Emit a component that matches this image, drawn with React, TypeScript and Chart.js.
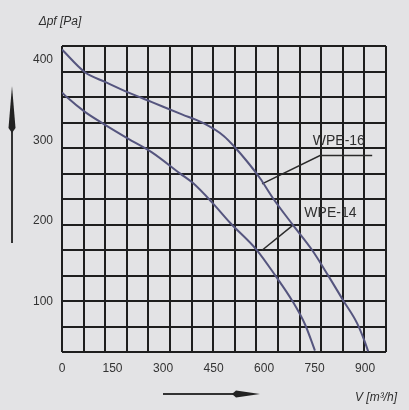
import React, { useEffect, useRef } from "react";
import { Chart, registerables } from "chart.js";

Chart.register(...registerables);

// WPE-16 fan curve (flow m³/h, pressure Pa)
const wpe16Flow = [0, 68, 128, 196, 267, 356, 420, 481, 514, 549, 588, 627, 686, 743, 790, 835, 876, 900, 909];
const wpe16Pressure = [412, 384, 372, 359, 347, 332, 321, 305, 291, 274, 253, 228, 195, 164, 133, 102, 74, 50, 39];

// WPE-14 fan curve
const wpe14Flow = [0, 15, 68, 128, 196, 267, 350, 389, 448, 499, 579, 633, 683, 722, 751];
const wpe14Pressure = [359, 353, 335, 319, 302, 285, 259, 247, 222, 198, 164, 133, 102, 72, 40];

// Leader lines for curve labels (data units)
const leader16Flow = [594, 766, 921];
const leader16Pressure = [246, 281, 281];
const leader14Flow = [594, 686];
const leader14Pressure = [164, 195];

const curveLabels = ["WPE-16", "WPE-14"];
const curveLabelFlow = [822, 797];
const curveLabelPressure = [299, 210];

const xTicks = [0, 150, 300, 450, 600, 750, 900];
const yTicks = [100, 200, 300, 400];
const xMin = 0;
const xMax = 962;
const yMin = 38.3;
const yMax = 416.4;
const xDivisions = 15;
const yDivisions = 12;

const yTitle = "Δpf [Pa]";
const xTitle = "V [m³/h]";

const toPts = (xs: number[], ys: number[]) => xs.map((x, i) => ({ x, y: ys[i] }));

const evenTicks = (min: number, max: number, n: number) =>
  Array.from({ length: n + 1 }, (_, i) => ({ value: min + (i * (max - min)) / n }));

export default function App() {
  const ref = useRef<HTMLCanvasElement | null>(null);

  useEffect(() => {
    if (!ref.current) return;
    const bgPlugin = {
      id: "bg",
      beforeDraw(chart: any) {
        const { ctx, width, height } = chart;
        ctx.save();
        ctx.fillStyle = "#e3e3e5";
        ctx.fillRect(0, 0, width, height);
        ctx.restore();
      },
    };
    const decoPlugin = {
      id: "deco",
      afterDraw(chart: any) {
        const { ctx } = chart;
        const xs = chart.scales.x;
        const ys = chart.scales.y;
        ctx.save();
        ctx.fillStyle = "#2e2e2e";
        ctx.textBaseline = "middle";
        ctx.textAlign = "center";
        ctx.font = "14px 'Liberation Sans', Arial, sans-serif";
        curveLabels.forEach((t, i) => {
          ctx.fillText(t, xs.getPixelForValue(curveLabelFlow[i]), ys.getPixelForValue(curveLabelPressure[i]));
        });
        ctx.font = "italic 12px 'Liberation Sans', Arial, sans-serif";
        ctx.textAlign = "center";
        ctx.fillText(yTitle, 60, 22);
        ctx.textAlign = "left";
        ctx.fillText(xTitle, 355, 398);

        // vertical arrow
        ctx.strokeStyle = "#333";
        ctx.fillStyle = "#222";
        ctx.lineWidth = 2;
        ctx.beginPath();
        ctx.moveTo(12, 120);
        ctx.lineTo(12, 243);
        ctx.stroke();
        ctx.beginPath();
        ctx.moveTo(12, 86);
        ctx.lineTo(15.5, 128);
        ctx.lineTo(12, 133);
        ctx.lineTo(8.5, 128);
        ctx.closePath();
        ctx.fill();
        // horizontal arrow
        ctx.beginPath();
        ctx.moveTo(163, 394);
        ctx.lineTo(240, 394);
        ctx.stroke();
        ctx.beginPath();
        ctx.moveTo(260, 394);
        ctx.lineTo(236, 397.5);
        ctx.lineTo(232, 394);
        ctx.lineTo(236, 390.5);
        ctx.closePath();
        ctx.fill();
        ctx.restore();
      },
    };

    const chart = new Chart(ref.current, {
      type: "line",
      data: {
        datasets: [
          {
            label: "WPE-16",
            data: toPts(wpe16Flow, wpe16Pressure),
            borderColor: "#55557e",
            borderWidth: 2,
            pointRadius: 0,
            cubicInterpolationMode: "monotone",
          },
          {
            label: "WPE-14",
            data: toPts(wpe14Flow, wpe14Pressure),
            borderColor: "#55557e",
            borderWidth: 2,
            pointRadius: 0,
            cubicInterpolationMode: "monotone",
          },
          {
            label: "leader16",
            data: toPts(leader16Flow, leader16Pressure),
            borderColor: "#2a2a2a",
            borderWidth: 1.5,
            pointRadius: 0,
            tension: 0,
          },
          {
            label: "leader14",
            data: toPts(leader14Flow, leader14Pressure),
            borderColor: "#2a2a2a",
            borderWidth: 1.5,
            pointRadius: 0,
            tension: 0,
          },
        ],
      },
      options: {
        animation: false,
        responsive: false,
        layout: { padding: { top: 46, right: 23, left: 0, bottom: 0 } },
        plugins: { legend: { display: false }, tooltip: { enabled: false } },
        scales: {
          xg: {
            type: "linear",
            position: "bottom",
            min: xMin,
            max: xMax,
            afterBuildTicks: (s: any) => {
              s.ticks = evenTicks(xMin, xMax, xDivisions);
            },
            afterFit: (s: any) => {
              s.height = 0;
            },
            ticks: { display: false },
            grid: { color: "#1e1e1e", lineWidth: 2, drawTicks: false },
            border: { display: false },
          },
          yg: {
            type: "linear",
            position: "left",
            min: yMin,
            max: yMax,
            afterBuildTicks: (s: any) => {
              s.ticks = evenTicks(yMin, yMax, yDivisions);
            },
            afterFit: (s: any) => {
              s.width = 0;
            },
            ticks: { display: false },
            grid: { color: "#1e1e1e", lineWidth: 2, drawTicks: false },
            border: { display: false },
          },
          x: {
            type: "linear",
            position: "bottom",
            min: xMin,
            max: xMax,
            afterBuildTicks: (s: any) => {
              s.ticks = xTicks.map((v) => ({ value: v }));
            },
            afterFit: (s: any) => {
              s.height = 58;
            },
            ticks: {
              color: "#333",
              font: { family: "'Liberation Sans', Arial, sans-serif", size: 12 },
              padding: 9,
              maxRotation: 0,
              autoSkip: false,
            },
            grid: { display: false, drawTicks: false },
            border: { display: false },
          },
          y: {
            type: "linear",
            position: "left",
            min: yMin,
            max: yMax,
            afterBuildTicks: (s: any) => {
              s.ticks = yTicks.map((v) => ({ value: v }));
            },
            afterFit: (s: any) => {
              s.width = 62;
            },
            ticks: {
              color: "#333",
              font: { family: "'Liberation Sans', Arial, sans-serif", size: 12 },
              padding: 9,
              autoSkip: false,
            },
            grid: { display: false, drawTicks: false },
            border: { display: false },
          },
        },
      },
      plugins: [bgPlugin, decoPlugin],
    } as any);
    return () => chart.destroy();
  }, []);

  return (
    <div style={{ position: "fixed", left: 0, top: 0, width: 409, height: 410 }}>
      <canvas ref={ref} width={409} height={410} />
    </div>
  );
}
